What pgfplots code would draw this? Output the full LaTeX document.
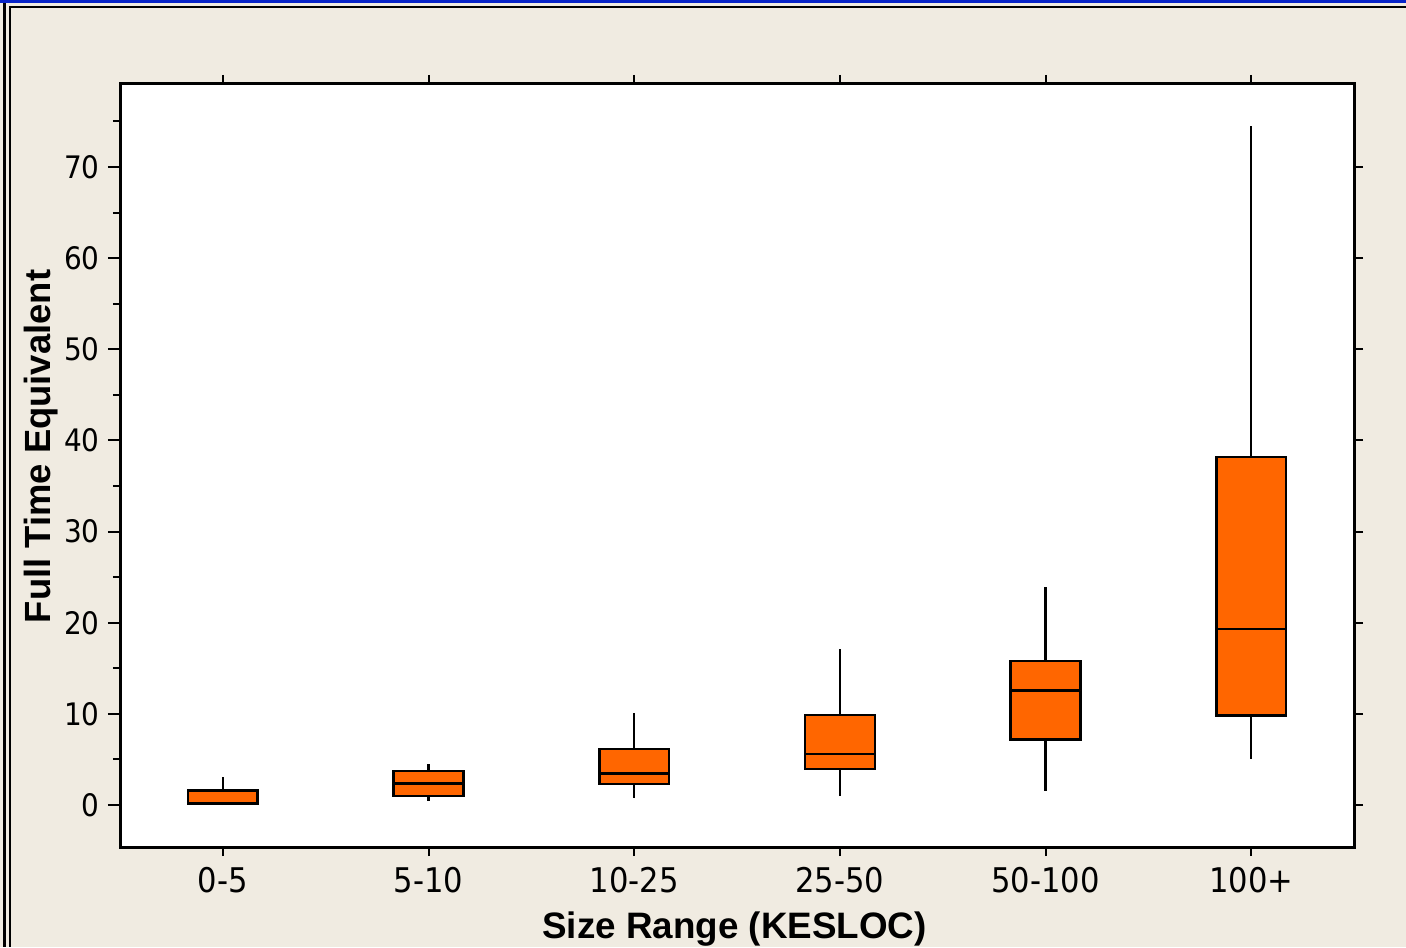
\documentclass[border=0pt]{standalone}
\usepackage{fontspec}
\usepackage{pgfplots}
\pgfplotsset{compat=1.18}
\usepgfplotslibrary{statistics}
\setmainfont{Liberation Sans}
\newfontfamily\tickfont{DejaVu Sans Condensed}
\definecolor{bg}{RGB}{240,235,225}
\definecolor{boxor}{RGB}{255,102,0}
\definecolor{topblue}{RGB}{8,36,200}
\begin{document}
\begin{tikzpicture}
\fill[bg] (0pt,0pt) rectangle (703pt,473.5pt);
\useasboundingbox (0pt,0pt) rectangle (703pt,473.5pt);
\fill[topblue] (0pt,472pt) rectangle (703pt,473.5pt);
\fill[black] (1.6pt,0pt) rectangle (2.8pt,472pt);
\fill[black] (4.3pt,0pt) rectangle (5.3pt,470.5pt);
\fill[black] (4.3pt,469.4pt) rectangle (703pt,470.5pt);
\begin{axis}[at={(60pt,50pt)}, anchor=south west, scale only axis,
  width=617pt, height=381.5pt,
  xmin=-0.5, xmax=5.5, ymin=-4.6, ymax=79.1,
  axis background/.style={fill=white},
  axis line style={line width=1.5pt},
  xtick=\empty,
  ytick={0,10,...,70}, minor ytick={5,15,...,75},
  ytick pos=left, tick align=outside,
  major tick length=6pt, minor tick length=3.5pt,
  tick style={black, line width=1pt},
  yticklabel style={font=\tickfont\fontsize{15.5}{15.5}\selectfont, inner sep=0pt, xshift=-4pt},
  /pgf/number format/assume math mode=true,
  boxplot/draw direction=y, boxplot/box extend=0.34, boxplot/whisker extend=0,
  ]
\addplot[boxplot prepared={draw position=0, median=0.2, lower quartile=0.19, upper quartile=1.57, lower whisker=0.0, upper whisker=3.1}, draw=black, fill=boxor, line width=1.3pt] coordinates {};
\addplot[boxplot prepared={draw position=1, median=2.34, lower quartile=0.99, upper quartile=3.73, lower whisker=0.47, upper whisker=4.46}, draw=black, fill=boxor, line width=1.3pt] coordinates {};
\addplot[boxplot prepared={draw position=2, median=3.43, lower quartile=2.30, upper quartile=6.14, lower whisker=0.73, upper whisker=10.12}, draw=black, fill=boxor, line width=1.3pt] coordinates {};
\addplot[boxplot prepared={draw position=3, median=5.59, lower quartile=3.95, upper quartile=9.90, lower whisker=0.99, upper whisker=17.1}, draw=black, fill=boxor, line width=1.3pt] coordinates {};
\addplot[boxplot prepared={draw position=4, median=12.58, lower quartile=7.16, upper quartile=15.82, lower whisker=1.57, upper whisker=23.87}, draw=black, fill=boxor, line width=1.3pt] coordinates {};
\addplot[boxplot prepared={draw position=5, median=19.30, lower quartile=9.84, upper quartile=38.16, lower whisker=5.04, upper whisker=74.46}, draw=black, fill=boxor, line width=1.3pt] coordinates {};
\end{axis}
\begin{axis}[at={(60pt,50pt)}, anchor=south west, scale only axis,
  width=617pt, height=381.5pt,
  xmin=-0.5, xmax=5.5, ymin=-4.6, ymax=79.1,
  axis line style={line width=1.5pt},
  xtick={0,1,2,3,4,5}, xticklabels={0-5,5-10,10-25,25-50,50-100,100+},
  xtick pos=both,
  ytick={0,10,...,70}, yticklabels={}, ytick pos=right,
  tick align=outside, major tick length=4.5pt,
  tick style={black, line width=1pt},
  xticklabel style={font=\tickfont\fontsize{17}{17}\selectfont, inner sep=0pt, anchor=north, yshift=-5.5pt},
  /pgf/number format/assume math mode=true,
  ]
\end{axis}
\node[rotate=90, anchor=base, font=\bfseries\fontsize{18.2}{18.2}\selectfont] at (25pt,250.25pt) {Full Time Equivalent};
\node[anchor=base, font=\bfseries\fontsize{18.4}{18.4}\selectfont] at (367.25pt,4.5pt) {Size Range (KESLOC)};
\end{tikzpicture}
\end{document}
